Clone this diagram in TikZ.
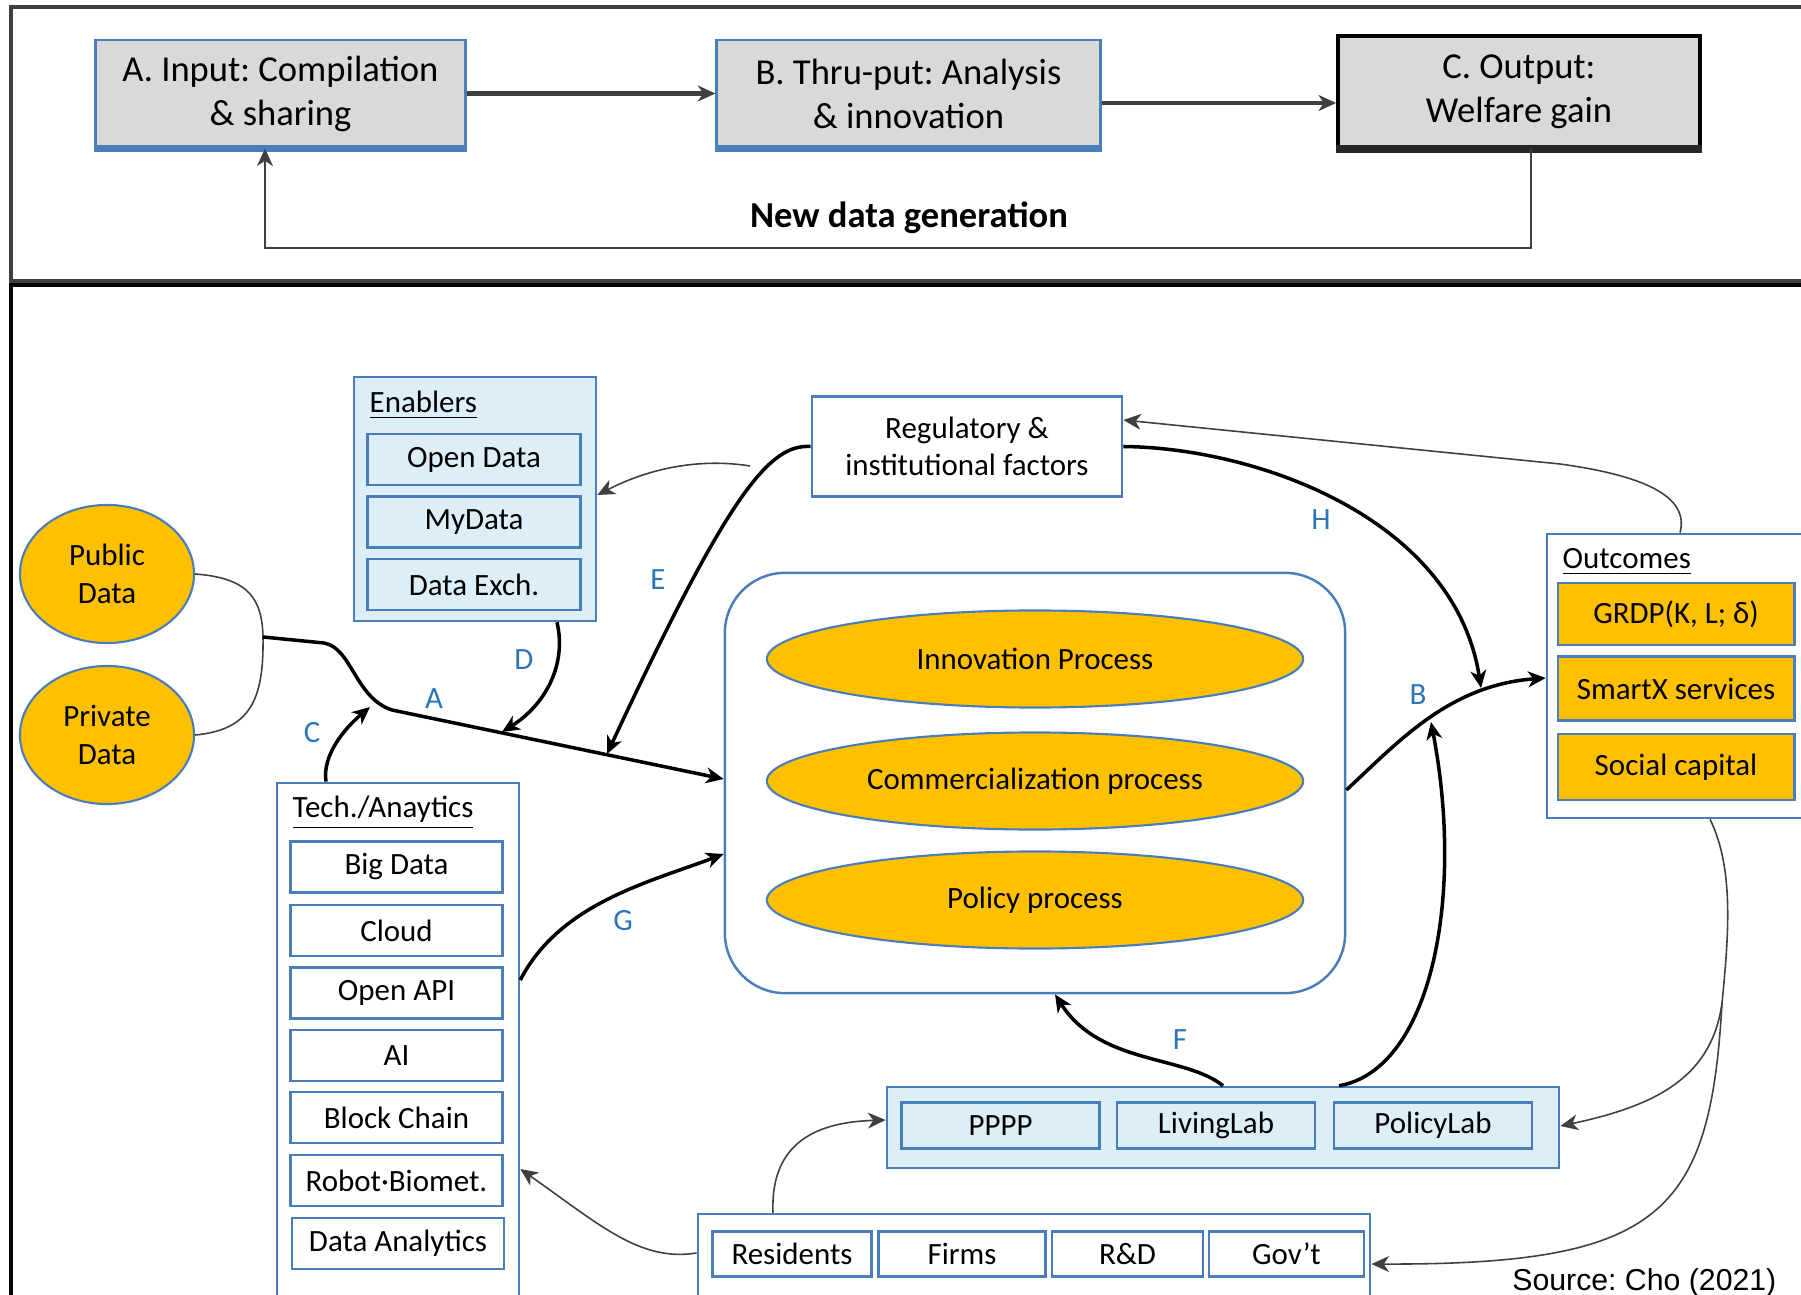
\documentclass[tikz,border=0pt]{standalone}
\usepackage{fontspec}
\setmainfont{Carlito}
\newfontfamily\srcfont{Liberation Sans}
\usetikzlibrary{shapes.geometric,arrows.meta}
\definecolor{cgold}{HTML}{FFC000}
\definecolor{cedge}{HTML}{4A7EBB}
\definecolor{cpale}{HTML}{DCEEF8}
\definecolor{cgrey}{HTML}{D9D9D9}
\definecolor{clabel}{HTML}{2E75B6}
\definecolor{cdark}{HTML}{404040}
\newcommand{\toptext}{\fontsize{10.4}{12.5}\selectfont}
\newcommand{\bodytext}{\fontsize{8.8}{10.6}\selectfont}

\begin{document}
\frenchspacing
\begin{tikzpicture}[x=0.01cm,y=-0.01cm,
  >={Stealth[length=5pt,width=4.5pt,inset=1.5pt]},
  stage/.style={draw=cedge,fill=cgrey,line width=0.8pt,font=\toptext,align=center,inner sep=0pt},
  group/.style={draw=cedge,line width=0.7pt,inner sep=0pt},
  item/.style={draw=cedge,line width=0.8pt,font=\bodytext,inner sep=0pt},
  ball/.style={ellipse,draw=cedge,fill=cgold,line width=0.6pt,font=\bodytext,align=center,inner sep=0pt},
  heading/.style={anchor=west,font=\bodytext,inner sep=0pt},
  lbl/.style={text=clabel,font=\bodytext,inner sep=0pt},
  flow/.style={->,line width=1pt},
  thinflow/.style={->,line width=0.45pt,cdark}]
  \useasboundingbox (0,0) rectangle (1801,1295);
  \clip (0,0) rectangle (1801,1295);

  % top panel
  \draw[cdark,line width=0.9pt] (1810,7) -- (11,7) -- (11,281) -- (1810,281);
  \node[stage,minimum width=3.69cm,minimum height=1.07cm] (input) at (280.5,93.5) {A. Input: Compilation\\\& sharing};
  \node[stage,minimum width=3.83cm,minimum height=1.07cm] (thruput) at (908.5,93.5) {B. Thru-put: Analysis\\\& innovation};
  \node[stage,draw=black,line width=1pt,minimum width=3.62cm,minimum height=1.11cm] (output) at (1519,91.5) {C. Output:\\Welfare gain};
  \draw[cedge,line width=2pt] (input.south west) -- (input.south east);
  \draw[cedge,line width=2pt] (thruput.south west) -- (thruput.south east);
  \draw[black!85,line width=2.4pt] (output.south west) -- (output.south east);
  \draw[->,cdark,line width=1.3pt] (input.east) -- (thruput.west);
  \draw[->,cdark,line width=1.3pt] (thruput.east |- 0,103) -- (output.west |- 0,103);
  \draw[->,cdark,line width=0.7pt] (output.south -| 1531,0) |- (265,248) -- (input.south -| 265,0);
  \node[font=\toptext\bfseries] (newdata) at (909,218) {New data generation};

  % bottom panel
  \draw[black,line width=0.9pt] (11,1300) -- (11,285) -- (1810,285);

  \node[group,fill=cpale,minimum width=2.42cm,minimum height=2.44cm] (enab) at (475,499) {};
  \node[heading] (enabT) at (369,405) {\underline{Enablers}};
  \node[item,fill=cpale,minimum width=2.13cm,minimum height=0.51cm] (opendata) at (474,459.5) {Open Data};
  \node[item,fill=cpale,minimum width=2.13cm,minimum height=0.51cm] (mydata) at (474,522) {MyData};
  \node[item,fill=cpale,minimum width=2.13cm,minimum height=0.51cm] (exch) at (474,584.5) {Data Exch.};

  \node[group,fill=white,minimum width=3.10cm,minimum height=1.00cm,font=\bodytext,align=center] (reg) at (967,446.5) {Regulatory \&\\institutional factors};

  \node[ball,minimum width=1.74cm,minimum height=1.38cm] (pub) at (107,574) {Public\\Data};
  \node[ball,minimum width=1.74cm,minimum height=1.38cm] (priv) at (107,735) {Private\\Data};

  \node[group,rounded corners=0.6cm,minimum width=6.20cm,minimum height=4.20cm] (proc) at (1035,783) {};
  \node[ball,minimum width=5.36cm,minimum height=0.97cm] (innov) at (1035,659) {Innovation Process};
  \node[ball,minimum width=5.36cm,minimum height=0.97cm] (comm) at (1035,781) {Commercialization process};
  \node[ball,minimum width=5.36cm,minimum height=0.97cm] (policy) at (1035,900) {Policy process};

  \node[group,fill=white,minimum width=2.70cm,minimum height=2.84cm] (outc) at (1682,676) {};
  \node[heading] (outcT) at (1562,562) {\underline{Outcomes}};
  \node[item,fill=cgold,minimum width=2.36cm,minimum height=0.62cm] (grdp) at (1676,614) {GRDP(K, L; δ)};
  \node[item,fill=cgold,minimum width=2.36cm,minimum height=0.64cm] (smartx) at (1676,688.5) {SmartX services};
  \node[item,fill=cgold,minimum width=2.36cm,minimum height=0.66cm] (social) at (1676,767) {Social capital};

  \node[group,fill=white,minimum width=2.42cm,minimum height=5.40cm] (tech) at (398,1053) {};
  \node[heading] (techT) at (292,813) {\underline{Tech./Anaytics}};
  \node[item,minimum width=2.12cm,minimum height=0.51cm] (bigdata) at (396.5,867) {Big Data};
  \node[item,minimum width=2.12cm,minimum height=0.51cm] (cloud) at (396.5,930.5) {Cloud};
  \node[item,minimum width=2.12cm,minimum height=0.51cm] (openapi) at (396.5,993) {Open API};
  \node[item,minimum width=2.12cm,minimum height=0.51cm] (ai) at (396.5,1055.5) {AI};
  \node[item,minimum width=2.12cm,minimum height=0.51cm] (block) at (396.5,1117.5) {Block Chain};
  \node[item,minimum width=2.12cm,minimum height=0.51cm] (robot) at (396.5,1180.5) {Robot·Biomet.};
  \node[item,minimum width=2.12cm,minimum height=0.51cm] (analytics) at (398,1243.5) {Data Analytics};

  \node[group,fill=cpale,minimum width=6.72cm,minimum height=0.81cm] (labs) at (1223,1127.5) {};
  \node[item,fill=cpale,minimum width=1.98cm,minimum height=0.46cm] (pppp) at (1000.5,1125.5) {PPPP};
  \node[item,fill=cpale,minimum width=1.98cm,minimum height=0.46cm] (living) at (1216,1125.5) {LivingLab};
  \node[item,fill=cpale,minimum width=1.98cm,minimum height=0.46cm] (policylab) at (1433,1125.5) {PolicyLab};

  \node[group,fill=white,minimum width=6.72cm,minimum height=1.10cm] (actors) at (1034,1269) {};
  \node[item,minimum width=1.59cm,minimum height=0.45cm] (resid) at (792,1254) {Residents};
  \node[item,minimum width=1.67cm,minimum height=0.45cm] (firms) at (962,1254) {Firms};
  \node[item,minimum width=1.51cm,minimum height=0.45cm] (rnd) at (1127.5,1254) {R\&D};
  \node[item,minimum width=1.55cm,minimum height=0.45cm] (govt) at (1286.5,1254) {Gov’t};

  \node[font=\srcfont\fontsize{8.6}{10}\selectfont,anchor=base east,inner sep=0pt] (source) at (1777,1290) {Source: Cho (2021)};

  \coordinate (join) at (263,637);
  \coordinate (tipC) at (370,707);
  \coordinate (tipD) at (502,732);
  \coordinate (tipE) at (607,754);
  \coordinate (splitE) at (750,466);
  \coordinate (tipH) at (1481,688);
  \coordinate (tipL) at (1431,722);
  \coordinate (split) at (1722,1003);

  \draw[cdark,line width=0.45pt] (pub.east) .. controls (250,578) and (262,600) .. (join) .. controls (264,700) and (250,730) .. (priv.east);
  \draw[flow] (join) -- (324,643) .. controls (352,648) and (355,698) .. (392,710) -- (proc.west |- 0,779);
  \draw[flow] (tech.north -| 326,0) .. controls (322,755) and (345,728) .. (tipC);
  \draw[flow] (enab.south -| 557,0) .. controls (567,665) and (545,705) .. (tipD);
  \draw[flow] (reg.west) .. controls (770,444) and (730,490) .. (tipE);
  \draw[thinflow] (splitE) .. controls (700,458) and (650,468) .. (enab.east |- 0,495);
  \draw[flow] (reg.east) .. controls (1260,448) and (1455,520) .. (tipH);
  \draw[flow] (proc.east |- 0,790) .. controls (1400,740) and (1450,685) .. (outc.west |- 0,678);
  \draw[thinflow] (outc.north -| 1680,0) .. controls (1690,495) and (1640,475) .. (1560,464) -- (reg.east |- 0,420);
  \draw[thinflow] (outc.south -| 1710,0) .. controls (1735,870) and (1728,940) .. (split) .. controls (1710,1215) and (1660,1265) .. (actors.east |- 0,1264);
  \draw[thinflow] (split) .. controls (1712,1075) and (1660,1105) .. (labs.east |- 0,1126);
  \draw[thinflow] (actors.west |- 0,1253) .. controls (640,1262) and (600,1225) .. (tech.east |- 0,1169);
  \draw[thinflow] (actors.north -| 773,0) .. controls (770,1140) and (820,1122) .. (labs.west |- 0,1120);
  \draw[flow] (labs.north -| 1223,0) .. controls (1185,1055) and (1100,1065) .. (proc.south -| 1055,0);
  \draw[flow] (labs.north -| 1339,0) .. controls (1430,1070) and (1465,900) .. (tipL);
  \draw[flow] (tech.east |- 0,980) .. controls (560,903) and (650,882) .. (proc.west |- 0,854);

  \node[lbl] (lblA) at (434,699) {A};
  \node[lbl] (lblB) at (1418,695) {B};
  \node[lbl] (lblC) at (312,733) {C};
  \node[lbl] (lblD) at (524,660) {D};
  \node[lbl] (lblE) at (658,580) {E};
  \node[lbl] (lblF) at (1180,1040) {F};
  \node[lbl] (lblG) at (623,921) {G};
  \node[lbl] (lblH) at (1321,520) {H};
\end{tikzpicture}
\end{document}
